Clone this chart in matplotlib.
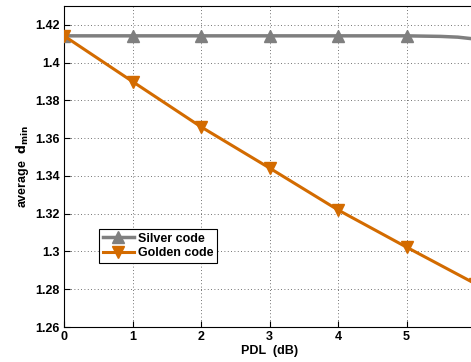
import matplotlib
matplotlib.use("Agg")
import matplotlib.pyplot as plt

# values
silver_x = [0, 1, 2, 3, 4, 5, 5.5, 5.75, 6]
silver_y = [1.4142, 1.4142, 1.4142, 1.4142, 1.4142, 1.4142, 1.4139, 1.4135, 1.4125]
silver_marks = [0, 1, 2, 3, 4, 5]

golden_x = [0, 1, 2, 3, 4, 5, 6]
golden_y = [1.4142, 1.3900, 1.3660, 1.3442, 1.3220, 1.3023, 1.2830]

xticks = [0, 1, 2, 3, 4, 5]
yticks = [1.26, 1.28, 1.30, 1.32, 1.34, 1.36, 1.38, 1.40, 1.42]
yticklabels = ["1.26", "1.28", "1.3", "1.32", "1.34", "1.36", "1.38", "1.4", "1.42"]

plt.rcParams["font.family"] = ["Liberation Sans", "DejaVu Sans"]
plt.rcParams["font.weight"] = "bold"

fig = plt.figure(figsize=(4.71, 3.62), dpi=100)
ax = fig.add_axes([64 / 471, 35 / 362, 411 / 471, 321 / 362])

ax.plot(silver_x, silver_y, color="#7f7f7f", lw=2.5, marker="^", ms=8,
        markevery=silver_marks, label="Silver code", zorder=3)
ax.plot(golden_x, golden_y, color="#d36b00", lw=2.2, marker="v", ms=8,
        label="Golden code", zorder=4)

ax.set_xlim(0, 6)
ax.set_ylim(1.26, 1.43)
ax.set_xticks(xticks)
ax.set_yticks(yticks)
ax.set_yticklabels(yticklabels)
ax.tick_params(labelsize=9, direction="in", length=4, pad=3)
ax.grid(True, color="#444444", linestyle=(0, (1, 3)), linewidth=0.6)

ax.set_xlabel("PDL  (dB)", fontsize=9, fontweight="bold", labelpad=1)
ax.set_ylabel(r"average  $\mathbf{d_{min}}$", fontsize=9, fontweight="bold", labelpad=3)

for s in ax.spines.values():
    s.set_linewidth(0.8)

leg = ax.legend(loc="lower left", bbox_to_anchor=(0.07, 0.18), fontsize=9,
                fancybox=False, framealpha=1, edgecolor="black",
                handlelength=2.5, borderpad=0.3, labelspacing=0.2,
                handletextpad=0.3)
leg.get_frame().set_linewidth(0.8)

fig.savefig("out.png", dpi=100)
